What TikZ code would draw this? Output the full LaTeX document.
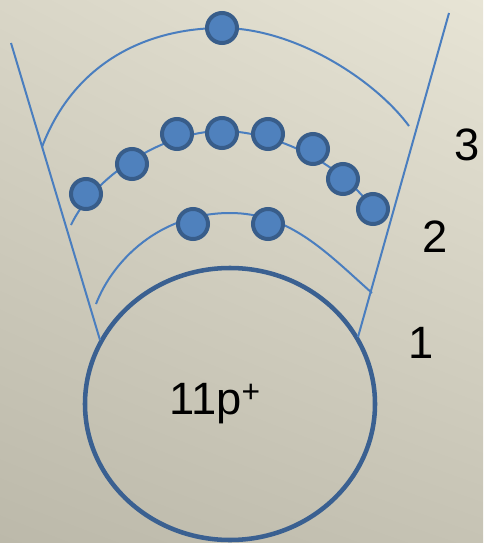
\documentclass[tikz,border=0pt]{standalone}
\usepackage{fontspec}
\setmainfont{Liberation Sans}
\usetikzlibrary{shadings}
\definecolor{bgtl}{HTML}{D9D6C7}
\definecolor{bgtr}{HTML}{E7E4D5}
\definecolor{bgbl}{HTML}{BCB9AA}
\definecolor{bgbr}{HTML}{C6C3B4}
\definecolor{orbit}{HTML}{4A7EBF}
\definecolor{shell}{HTML}{4F81BD}
\definecolor{edge}{HTML}{385D8A}
\definecolor{core}{HTML}{3A6091}

\begin{document}
\begin{tikzpicture}[x=0.75pt, y=-0.75pt, font=\fontsize{34}{40}\selectfont,
  electron/.style={circle, draw=edge, fill=shell, line width=3pt,
    minimum size=22.5pt, inner sep=0pt},
  orbitline/.style={orbit, line width=1.5pt}]
  \useasboundingbox (0,0) rectangle (483,543);
  \shade[upper left=bgtl, upper right=bgtr, lower left=bgbl, lower right=bgbr]
    (0,0) rectangle (483,543);
  % nucleus and the two boundary lines
  \draw[core, line width=3.4pt] (230,404) ellipse [x radius=145, y radius=136];
  \node (nucleus) at (215,404) {11p\textsuperscript{+}};
  \coordinate (lt) at (11,43);   \coordinate (lb) at (100,340);
  \coordinate (rt) at (449,13);  \coordinate (rb) at (358,337);
  \draw[orbitline] (lt) -- (lb);
  \draw[orbitline] (rt) -- (rb);
  % shells
  \draw[orbitline] (96,304) .. controls (113,260) and (160,213) .. (230,213)
    .. controls (290,213) and (327,253) .. (372,293);
  \draw[orbitline] (71,225) .. controls (93,178) and (162,131) .. (222,131)
    .. controls (272,131) and (338,160) .. (373,209);
  \draw[orbitline] (42,147) .. controls (75,60) and (150,28) .. (222,28)
    .. controls (295,28) and (375,80) .. (409,126);
  % electrons
  \foreach \n/\x/\y in {1/193/224, 2/268/224}
    \node[electron] (a\n) at (\x,\y) {};
  \foreach \n/\x/\y in {1/86/194, 2/132/164, 3/177/134, 4/222/133,
                        5/268/134, 6/313/149, 7/343/179, 8/373/209}
    \node[electron] (b\n) at (\x,\y) {};
  \node[electron] (c1) at (222,28) {};
  % shell numbers
  \node[anchor=base] (n3) at (467,160) {3};
  \node[anchor=base] (n2) at (435,252) {2};
  \node[anchor=base] (n1) at (421,358) {1};
\end{tikzpicture}
\end{document}
